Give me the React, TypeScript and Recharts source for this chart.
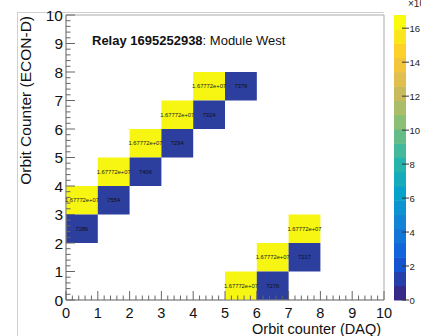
import React from "react";
import { ComposedChart, XAxis, YAxis, ReferenceArea, Customized } from "recharts";

// ---- data ----
const yellowX = [0, 1, 2, 3, 4, 5, 6, 7];
const yellowY = [3, 4, 5, 6, 7, 0, 1, 2];
const yellowValue = 16777216;
const blueX = [0, 1, 2, 3, 4, 5, 6, 7];
const blueY = [2, 3, 4, 5, 6, 7, 0, 1];
const blueValues = [7286, 7554, 7406, 7294, 7324, 7379, 7276, 7217];
const colorTicks = [0, 2, 4, 6, 8, 10, 12, 14, 16];
const colorMax = 16.777216;
const titleBold = "Relay 1695252938";
const titleRest = ": Module West";
const xTitle = "Orbit counter (DAQ)";
const yTitle = "Orbit Counter (ECON-D)";

const FONT = "'Liberation Sans', Arial, Helvetica, sans-serif";
const YELLOW = "#f7f512";
const BLUE = "#2c3e9e";

const minorTicks: number[] = [];
for (let i = 0; i <= 50; i++) minorTicks.push(Math.round(i * 2) / 10);

function fmtG(v: number): string {
  if (Math.abs(v) < 1e6) return String(v);
  const s = v.toExponential(5);
  const [m, e] = s.split("e");
  const sign = e[0];
  const digits = e.slice(1).padStart(2, "0");
  return `${m}e${sign}${digits}`;
}

const birdR = [0.2082, 0.0592, 0.078, 0.0232, 0.1802, 0.5301, 0.8186, 0.9956, 0.9764];
const birdG = [0.1664, 0.3599, 0.5041, 0.6419, 0.7178, 0.7492, 0.7328, 0.7862, 0.9832];
const birdB = [0.5293, 0.8684, 0.8385, 0.7914, 0.6425, 0.4662, 0.3499, 0.1968, 0.0539];
function bird(f: number): string {
  const p = f * 8;
  const i = Math.min(7, Math.floor(p));
  const t = p - i;
  const c = (a: number[]) => Math.round(255 * (a[i] + (a[i + 1] - a[i]) * t));
  return `rgb(${c(birdR)},${c(birdG)},${c(birdB)})`;
}

const XTick = (props: any) => {
  const { x, y, payload } = props;
  const v = payload.value;
  const major = Math.abs(v - Math.round(v)) < 1e-6;
  return (
    <g>
      <line x1={x} x2={x} y1={y} y2={y - (major ? 9 : 4.5)} stroke="#666" strokeWidth={1} />
      {major && (
        <text x={x} y={y + 17.5} textAnchor="middle" fontSize={14.5} fontFamily={FONT} fill="#111">
          {Math.round(v)}
        </text>
      )}
    </g>
  );
};

const YTick = (props: any) => {
  const { x, y, payload } = props;
  const v = payload.value;
  const major = Math.abs(v - Math.round(v)) < 1e-6;
  return (
    <g>
      <line x1={x} x2={x + (major ? 9 : 4.5)} y1={y} y2={y} stroke="#666" strokeWidth={1} />
      {major && (
        <text x={x - 3} y={y + 5.5} textAnchor="end" fontSize={15.5} fontFamily={FONT} fill="#111">
          {Math.round(v)}
        </text>
      )}
    </g>
  );
};

const Decor = () => {
  const barX = 394;
  const barW = 12;
  const top = 15;
  const bottom = 300;
  const n = 20;
  const h = (bottom - top) / n;
  const bands = [];
  for (let i = 0; i < n; i++) {
    bands.push(
      <rect key={i} x={barX} y={bottom - (i + 1) * h} width={barW} height={h + 0.5} fill={bird(i / (n - 1))} />
    );
  }
  return (
    <g>
      <line x1={17.5} x2={17.5} y1={12} y2={336} stroke="#d0d0d0" />
      <line x1={17.5} x2={384} y1={12.5} y2={12.5} stroke="#d0d0d0" />
      {bands}
      {colorTicks.map((t) => {
        const y = bottom - (t / colorMax) * (bottom - top);
        return (
          <g key={t}>
            <line x1={402} x2={409} y1={y} y2={y} stroke="#333" strokeWidth={1} />
            <text x={409.5} y={y + 3.5} fontSize={9.5} fontFamily={FONT} fill="#222">
              {t}
            </text>
          </g>
        );
      })}
      <text x={408} y={7} fontSize={10} fontFamily={FONT} fill="#222">
        ×10<tspan dy={-4} fontSize={7}>6</tspan>
      </text>
      <text x={92} y={45} fontSize={13} fontFamily={FONT} fill="#111">
        <tspan fontWeight="bold">{titleBold}</tspan>
        {titleRest}
      </text>
      <text x={381} y={334} textAnchor="end" fontSize={14.5} fontFamily={FONT} fill="#111">
        {xTitle}
      </text>
      <text
        transform="translate(31,16) rotate(-90)"
        textAnchor="end"
        fontSize={15.5}
        fontFamily={FONT}
        fill="#111"
      >
        {yTitle}
      </text>
    </g>
  );
};

export default function App() {
  return (
    <div style={{ position: "absolute", left: 0, top: 0, width: 421, height: 336, background: "#fff" }}>
      <ComposedChart width={421} height={336} margin={{ top: 15, right: 37, bottom: 0, left: 0 }}>
        <XAxis
          type="number"
          dataKey="x"
          domain={[0, 10]}
          ticks={minorTicks}
          interval={0}
          tickLine={false}
          tickSize={0}
          tickMargin={0}
          height={36}
          axisLine={{ stroke: "#888" }}
          tick={<XTick />}
          allowDataOverflow
        />
        <YAxis
          type="number"
          dataKey="y"
          domain={[0, 10]}
          ticks={minorTicks}
          interval={0}
          tickLine={false}
          tickSize={0}
          tickMargin={0}
          width={66}
          axisLine={{ stroke: "#888" }}
          tick={<YTick />}
          allowDataOverflow
        />
        <ReferenceArea x1={0} x2={10} y1={0} y2={10} fill="none" stroke="#aaa" strokeWidth={1} />
        {yellowX.map((x, i) => (
          <ReferenceArea
            key={`y${i}`}
            x1={x}
            x2={x + 1}
            y1={yellowY[i]}
            y2={yellowY[i] + 1}
            fill={YELLOW}
            fillOpacity={1}
            stroke="none"
            label={{ value: fmtG(yellowValue), position: "center", fill: "#222", fontSize: 5.8, fontFamily: FONT }}
          />
        ))}
        {blueX.map((x, i) => (
          <ReferenceArea
            key={`b${i}`}
            x1={x}
            x2={x + 1}
            y1={blueY[i]}
            y2={blueY[i] + 1}
            fill={BLUE}
            fillOpacity={1}
            stroke="none"
            label={{ value: fmtG(blueValues[i]), position: "center", fill: "#111", fontSize: 5.8, fontFamily: FONT }}
          />
        ))}
        <Customized component={<Decor />} />
      </ComposedChart>
    </div>
  );
}
